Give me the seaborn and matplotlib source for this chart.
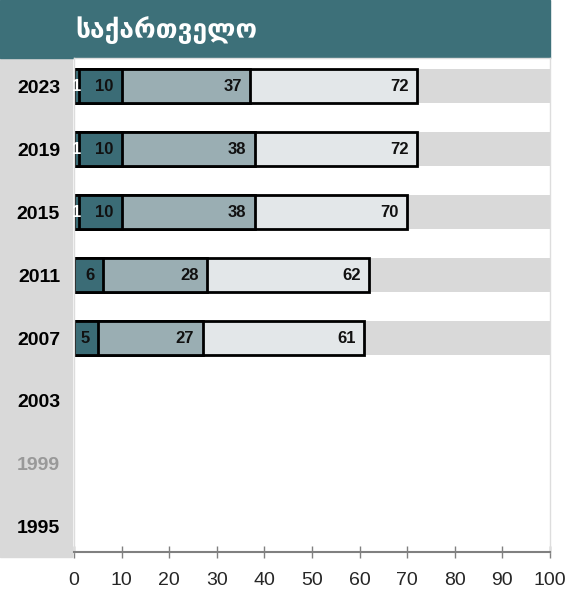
import numpy as np
import pandas as pd
import matplotlib.pyplot as plt
from matplotlib.patches import Rectangle
import seaborn as sns

sns.set_style('white')
plt.rcParams['font.family'] = ['Liberation Sans', 'DejaVu Sans']

# Data
years = ['2023', '2019', '2015', '2011', '2007', '2003', '1999', '1995']
s1 = [1, 1, 1, np.nan, np.nan, np.nan, np.nan, np.nan]
s2 = [10, 10, 10, 6, 5, np.nan, np.nan, np.nan]
s3 = [37, 38, 38, 28, 27, np.nan, np.nan, np.nan]
s4 = [72, 72, 70, 62, 61, np.nan, np.nan, np.nan]
title = 'საქართველო'

df = pd.DataFrame({'year': years, 's1': s1, 's2': s2, 's3': s3, 's4': s4})
df['bg'] = np.where(df['s4'].notna(), 100, np.nan)

fig = plt.figure(figsize=(5.7, 5.9), dpi=100)
ax = fig.add_axes([74 / 570, 38 / 590, 476 / 570, 494 / 590])

# left grey band and title bar
fig.patches.append(Rectangle((0, 33 / 590), 72 / 570, 499 / 590, transform=fig.transFigure,
                             color='#d9d9d9', zorder=-1))
fig.patches.append(Rectangle((0, 532 / 590), 550 / 570, 58 / 590, transform=fig.transFigure,
                             color='#3d7079', zorder=-1))
fig.text(75 / 570, 1 - 30 / 590, title, color='white', fontsize=19, fontweight='bold',
         va='center', ha='left', family='DejaVu Sans')

w = 0.54
sns.barplot(data=df, x='bg', y='year', order=years, orient='h', color='#d9d9d9',
            width=w, ax=ax, linewidth=0, saturation=1)
layers = [('s4', '#e3e7e9'), ('s3', '#9aaeb3'), ('s2', '#3b6c76'), ('s1', '#3b6c76')]
for col, c in layers:
    sns.barplot(data=df, x=col, y='year', order=years, orient='h', color=c, width=w,
                ax=ax, edgecolor='black', linewidth=2, saturation=1)

for i, y in enumerate(years):
    for col in ['s2', 's3', 's4']:
        v = df[col].iloc[i]
        if pd.notna(v):
            ax.annotate(f'{v:g}', (v, i), xytext=(-6, 0), textcoords='offset points',
                        ha='right', va='center', fontsize=12, fontweight='bold', color='#111111')
    v = df['s1'].iloc[i]
    if pd.notna(v):
        ax.text(v / 2, i, f'{v:g}', ha='center', va='center', fontsize=12,
                fontweight='bold', color='white')

ax.set_xlim(0, 100)
ax.set_ylim(7.4, -0.45)
ax.set_xticks(range(0, 101, 10))
ax.set_xlabel('')
ax.set_ylabel('')
ax.tick_params(axis='x', direction='inout', length=9, width=1, color='#808080',
               labelsize=14, pad=10, bottom=True)
ax.tick_params(axis='y', length=0, labelsize=14, pad=10)
for lab in ax.get_yticklabels():
    lab.set_fontweight('bold')
    lab.set_color('#999999' if lab.get_text() == '1999' else 'black')

for side in ['top', 'right', 'left']:
    ax.spines[side].set_color('#dddddd')
    ax.spines[side].set_linewidth(1)
ax.spines['bottom'].set_color('#808080')
ax.spines['bottom'].set_linewidth(1.5)

fig.savefig('out.png', dpi=100)
